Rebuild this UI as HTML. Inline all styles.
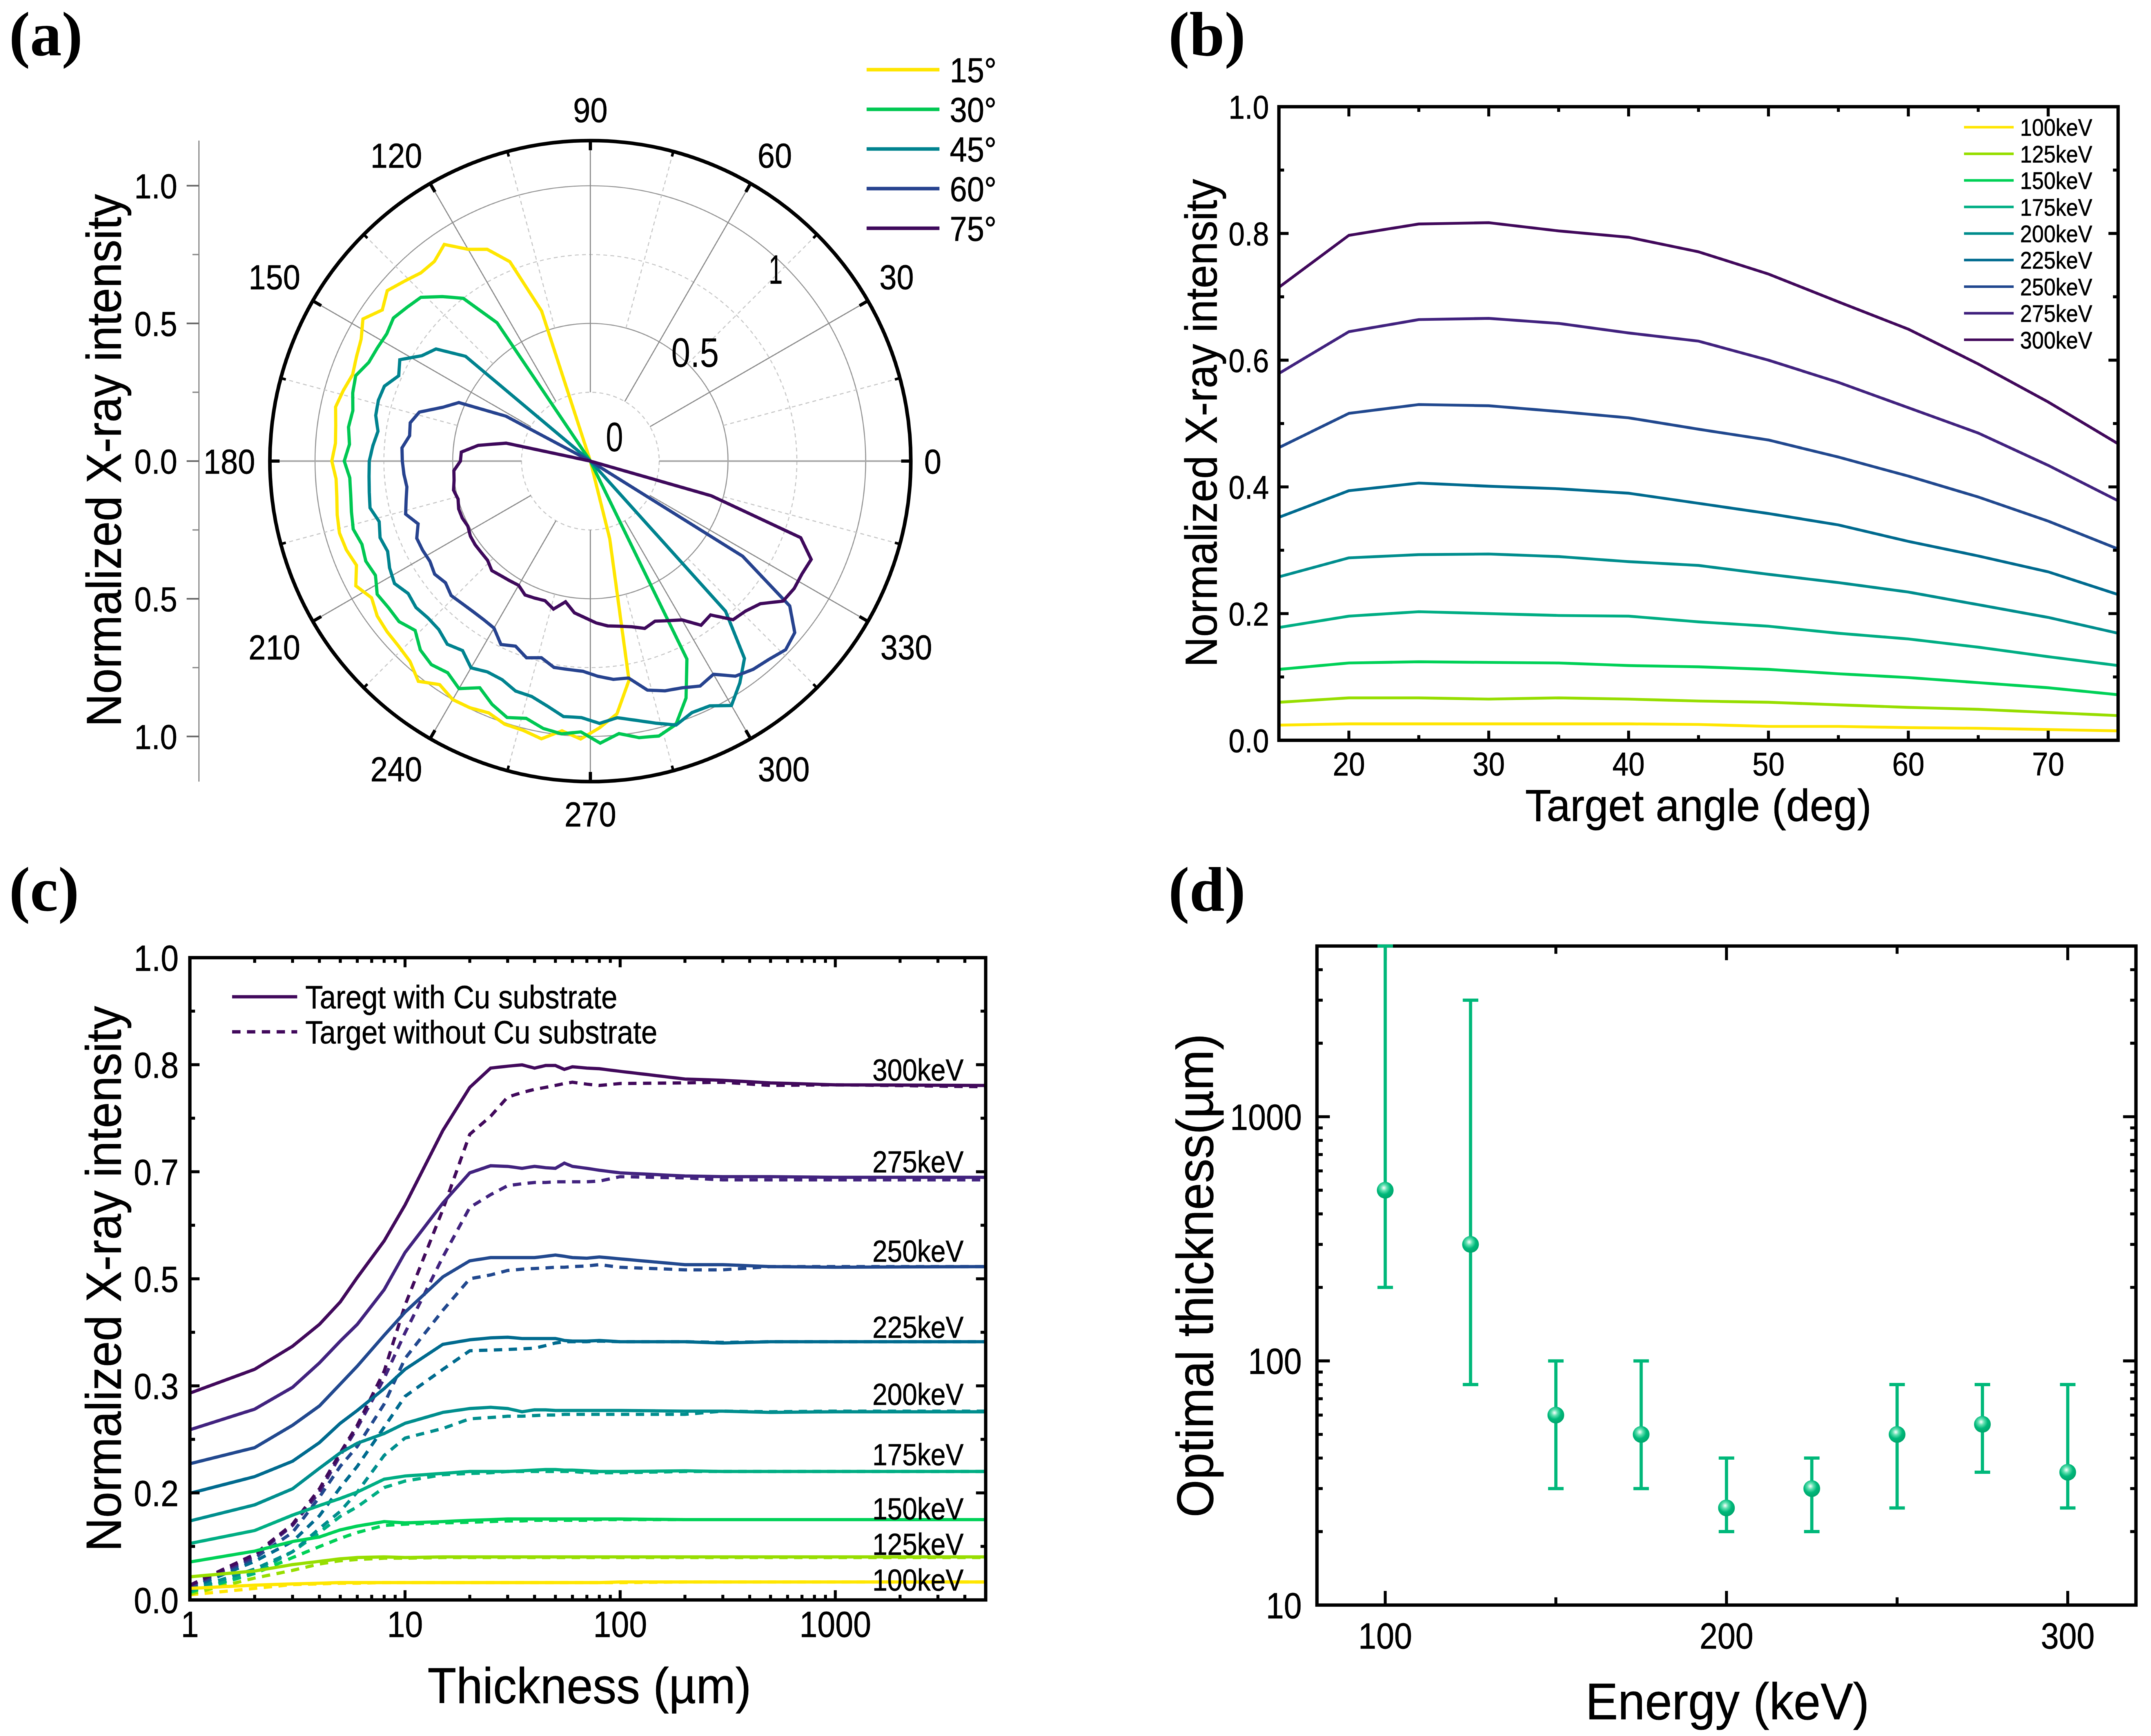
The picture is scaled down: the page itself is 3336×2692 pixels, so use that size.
<!DOCTYPE html>
<html lang="en">
<head>
<meta charset="utf-8">
<title>X-ray intensity figure</title>
<style>
html,body{margin:0;padding:0;background:#fff;}
svg{display:block;filter:blur(0.6px);}
text{font-family:"Liberation Sans",sans-serif;fill:#000;stroke:#000;stroke-width:0.5px;}
.letter{font-family:"Liberation Serif",serif;font-weight:bold;font-size:98px;stroke-width:0;}
</style>
</head>
<body>
<svg id="fig" xmlns="http://www.w3.org/2000/svg" width="3336" height="2692" viewBox="0 0 3336 2692">
<defs>
<radialGradient id="ball" cx="0.42" cy="0.36" r="0.65">
<stop offset="0" stop-color="#ffffff"/>
<stop offset="0.28" stop-color="#5fe0b0"/>
<stop offset="0.6" stop-color="#00b87a"/>
<stop offset="1" stop-color="#00a56c"/>
</radialGradient>
</defs>
<rect width="3336" height="2692" fill="#ffffff"/>
<text class="letter" x="14" y="86">(a)</text>
<text class="letter" x="1812" y="86">(b)</text>
<text class="letter" x="14" y="1412">(c)</text>
<text class="letter" x="1812" y="1412">(d)</text>

<g id="pa"></g>
<g id="pb"></g>
<g id="pc"></g>
<g id="pd"></g>

<text x="160" y="714" dy="0.36em" font-size="76" text-anchor="middle" textLength="826" lengthAdjust="spacingAndGlyphs" transform="rotate(-90 160 714)">Normalized X-ray intensity</text>
<text x="1862" y="656" dy="0.36em" font-size="70" text-anchor="middle" textLength="757" lengthAdjust="spacingAndGlyphs" transform="rotate(-90 1862 656)">Normalized X-ray intensity</text>
<text x="2634" y="1248" dy="0.36em" font-size="70" text-anchor="middle" textLength="537" lengthAdjust="spacingAndGlyphs">Target angle (deg)</text>
<text x="160" y="1983" dy="0.36em" font-size="77" text-anchor="middle" textLength="846" lengthAdjust="spacingAndGlyphs" transform="rotate(-90 160 1983)">Normalized X-ray intensity</text>
<text x="914" y="2613" dy="0.36em" font-size="78" text-anchor="middle" textLength="502" lengthAdjust="spacingAndGlyphs">Thickness (µm)</text>
<text x="1852" y="1978" dy="0.36em" font-size="80" text-anchor="middle" textLength="750" lengthAdjust="spacingAndGlyphs" transform="rotate(-90 1852 1978)">Optimal thickness(µm)</text>
<text x="2679" y="2637" dy="0.36em" font-size="80" text-anchor="middle" textLength="440" lengthAdjust="spacingAndGlyphs">Energy (keV)</text>
</svg>
<script>
/* ---------- panel (a) data: radial intensity sampled every 4 degrees ---------- */
const polarNames = ['15°','30°','45°','60°','75°'];
const polarStarts = [104,120,136,148,164];
const polar15 = [0,.573,.781,.856,.888,.949,.92,.92,.94,.963,.934,.974,.943,.93,.919,.933,.946,.934,.928,.939,.926,.93,.94,.948,.943,.93,.965,.937,.957,.964,.968,.979,1.015,.979,1.0,.997,.986,1.005,1.008,1.024,.985,1.01,.969,.923,.808,.29,0];
const polar30 = [0,.606,.75,.804,.856,.869,.884,.872,.876,.881,.907,.898,.882,.887,.877,.894,.876,.879,.887,.896,.883,.893,.884,.913,.906,.907,.885,.923,.938,.927,.954,.916,.953,.979,.963,.986,.996,.984,1.025,.995,1.02,1.029,1.006,.928,.8,0];
const polar45 = [0,.592,.693,.722,.784,.762,.796,.801,.797,.779,.792,.803,.806,.811,.818,.798,.813,.806,.826,.839,.818,.827,.82,.823,.844,.83,.867,.852,.856,.878,.881,.903,.933,.932,.953,.937,.956,.981,1.008,.985,.989,1.025,.971,.909,.734,0];
const polar60 = [0,.347,.523,.571,.646,.669,.663,.686,.683,.679,.673,.684,.698,.666,.69,.69,.687,.699,.687,.703,.696,.693,.694,.7,.741,.725,.751,.736,.761,.761,.764,.782,.797,.8,.857,.877,.888,.909,.894,.942,.96,.969,.986,.969,.895,.652,0];
const polar75 = [0,.313,.411,.47,.472,.497,.5,.508,.5,.509,.509,.504,.514,.517,.517,.519,.535,.528,.524,.521,.541,.537,.533,.554,.519,.554,.569,.588,.602,.609,.62,.639,.627,.645,.666,.719,.709,.775,.784,.806,.865,.873,.871,.878,.813,.457,0];
const polarAngleLabels = ['0','30','60','90','120','150','180','210','240','270','300','330'];
const polarLeftTicks = ['1.0','0.5','0.0','0.5','1.0'];
const polarRadialLabels = ['0','0.5','1'];

/* ---------- panel (b) data ---------- */
const angleValues = [15,20,25,30,35,40,45,50,55,60,65,70,75];
const energyNames = ['100keV','125keV','150keV','175keV','200keV','225keV','250keV','275keV','300keV'];
const angle100 = [.024,.026,.026,.026,.026,.026,.025,.022,.022,.020,.019,.017,.015];
const angle125 = [.060,.067,.067,.065,.067,.065,.062,.060,.056,.052,.049,.044,.039];
const angle150 = [.112,.122,.124,.123,.122,.118,.116,.112,.105,.099,.091,.083,.072];
const angle175 = [.178,.196,.203,.200,.197,.196,.187,.180,.169,.160,.147,.132,.118];
const angle200 = [.258,.288,.293,.294,.290,.282,.276,.262,.249,.234,.214,.194,.169];
const angle225 = [.352,.394,.406,.401,.397,.390,.374,.358,.340,.314,.291,.266,.230];
const angle250 = [.462,.516,.530,.528,.519,.509,.491,.474,.447,.417,.384,.346,.302];
const angle275 = [.579,.645,.664,.666,.658,.643,.630,.600,.565,.525,.485,.434,.378];
const angle300 = [.715,.797,.815,.817,.804,.794,.771,.736,.692,.649,.594,.534,.468];
const angleXTicks = ['20','30','40','50','60','70'];
const angleYTicks = ['0.0','0.2','0.4','0.6','0.8','1.0'];

/* ---------- panel (c) data ---------- */
const thicknessValues = [1,2,3,4,5,6,8,10,15,20,25,30,35,40,45,50,55,60,70,80,100,200,300,500,1000,5000];
const withCu300 = [.322,.359,.395,.429,.464,.502,.559,.615,.731,.798,.828,.831,.833,.828,.832,.832,.826,.830,.828,.827,.823,.811,.809,.805,.802,.801];
const noCu300 = [.023,.071,.118,.173,.229,.272,.356,.459,.608,.725,.753,.783,.790,.795,.798,.801,.804,.806,.803,.801,.804,.805,.806,.801,.802,.799];
const withCu275 = [.265,.297,.331,.369,.403,.429,.483,.541,.618,.665,.676,.675,.672,.675,.673,.672,.680,.675,.672,.669,.665,.660,.659,.659,.658,.658];
const noCu275 = [.022,.068,.116,.168,.225,.268,.345,.416,.534,.611,.631,.645,.648,.650,.650,.651,.651,.651,.651,.652,.659,.657,.654,.654,.654,.654];
const withCu250 = [.212,.237,.272,.302,.336,.364,.412,.448,.503,.528,.533,.533,.533,.533,.535,.537,.535,.533,.532,.534,.531,.522,.522,.519,.518,.519];
const noCu250 = [.020,.065,.105,.160,.208,.239,.305,.376,.451,.500,.506,.513,.515,.516,.517,.518,.518,.519,.520,.522,.518,.514,.514,.519,.519,.519];
const withCu225 = [.166,.192,.216,.245,.275,.295,.329,.359,.398,.405,.408,.409,.407,.407,.407,.407,.404,.403,.403,.404,.402,.402,.400,.402,.402,.402];
const noCu225 = [.018,.060,.091,.131,.175,.208,.269,.317,.359,.388,.389,.390,.391,.392,.396,.400,.402,.402,.402,.403,.402,.402,.401,.402,.402,.402];
const withCu200 = [.123,.148,.173,.205,.229,.244,.259,.275,.292,.298,.300,.298,.293,.296,.296,.295,.295,.295,.295,.295,.295,.294,.294,.292,.293,.293];
const noCu200 = [.016,.048,.075,.111,.138,.168,.225,.252,.267,.282,.284,.286,.286,.287,.288,.288,.289,.289,.289,.289,.289,.289,.294,.293,.294,.294];
const withCu175 = [.088,.108,.132,.147,.158,.168,.188,.193,.197,.200,.200,.200,.201,.202,.203,.203,.202,.202,.201,.200,.200,.201,.200,.200,.200,.200];
const noCu175 = [.014,.042,.075,.105,.130,.145,.175,.185,.195,.197,.198,.200,.200,.200,.200,.200,.200,.200,.198,.198,.198,.200,.200,.200,.200,.200];
const withCu150 = [.059,.076,.091,.098,.109,.115,.122,.120,.122,.124,.125,.126,.126,.126,.126,.126,.126,.126,.126,.126,.126,.125,.125,.125,.125,.125];
const noCu150 = [.012,.041,.066,.083,.096,.105,.116,.118,.120,.121,.122,.123,.123,.124,.124,.124,.124,.124,.124,.125,.125,.125,.125,.125,.125,.125];
const withCu125 = [.036,.045,.055,.060,.064,.066,.067,.066,.067,.067,.067,.067,.067,.067,.067,.067,.067,.067,.067,.067,.067,.067,.067,.067,.067,.067];
const noCu125 = [.009,.034,.046,.056,.061,.063,.065,.065,.066,.066,.066,.066,.066,.066,.066,.066,.066,.066,.066,.066,.066,.066,.066,.066,.066,.066];
const withCu100 = [.018,.023,.025,.026,.027,.027,.027,.027,.027,.027,.027,.027,.027,.027,.027,.027,.027,.027,.027,.027,.028,.028,.028,.028,.028,.028];
const noCu100 = [.008,.018,.024,.025,.026,.026,.027,.027,.027,.027,.027,.027,.027,.027,.027,.027,.027,.027,.027,.027,.027,.028,.028,.028,.028,.028];
const thicknessXTicks = ['1','10','100','1000'];
const thicknessYTicks = ['0.0','0.2','0.3','0.5','0.7','0.8','1.0'];

/* ---------- panel (d) data ---------- */
const energyValues = [100,125,150,175,200,225,250,275,300];
const optimalValues = [500,300,60,50,25,30,50,55,35];
const optimalLow = [200,80,30,30,20,20,25,35,25];
const optimalHigh = [5000,3000,100,100,40,40,80,80,80];
const optimalXTicks = ['100','200','300'];
const optimalYTicks = ['10','100','1000'];

const NS = 'http://www.w3.org/2000/svg';
const polarColors = ['#FFE600','#00C853','#00838F','#27438F','#3F0A5C'];
const energyColors = ['#FFE600','#97DE00','#00D158','#00AE84','#008E8E','#006B8F','#22498F','#42237F','#420A5C'];

function add(parent, tag, attrs, name, active) {
  const el = document.createElementNS(NS, tag);
  for (const k in attrs) el.setAttribute(k, attrs[k]);
  
  
  parent.appendChild(el);
  return el;
}
function line(parent, x1, y1, x2, y2, stroke, width, name, dash) {
  const a = {x1:x1,y1:y1,x2:x2,y2:y2,stroke:stroke,'stroke-width':width};
  if (dash) a['stroke-dasharray'] = dash;
  return add(parent, 'line', a, name);
}
function label(parent, x, y, str, size, anchor, name, extra) {
  const a = {x:x,y:y,dy:'0.36em','font-size':size,'text-anchor':anchor||'start'};
  if (extra) for (const k in extra) a[k] = extra[k];
  const t = add(parent, 'text', a, name);
  t.textContent = str;
  return t;
}
/* tall, narrow glyphs: the width stays that of baseSize, the height grows */
const glyphWidths = {'.':.278,'k':.5,'e':.556,'V':.667,'°':.4};
function textWidth(str) {
  let w = 0;
  for (const c of str) w += (c in glyphWidths) ? glyphWidths[c] : .556;
  return w;
}
function tallLabel(parent, x, y, str, baseSize, anchor, name) {
  return label(parent, x, y, str, baseSize * 1.13, anchor, name, {textLength:(textWidth(str) * baseSize).toFixed(1),lengthAdjust:'spacingAndGlyphs'});
}
function polyline(parent, pts, stroke, width, name, dash) {
  const a = {points:pts.map(p => p[0].toFixed(1)+','+p[1].toFixed(1)).join(' '),fill:'none',stroke:stroke,'stroke-width':width,'stroke-linejoin':'miter','stroke-miterlimit':3};
  if (dash) a['stroke-dasharray'] = dash;
  return add(parent, 'polyline', a, name);
}
function frame(parent, L, T, R, B, name) {
  add(parent, 'rect', {x:L,y:T,width:R-L,height:B-T,fill:'none',stroke:'#000','stroke-width':5.2}, name);
}

/* ========== panel (a) polar ========== */
(function () {
  const g = document.getElementById('pa');
  const cx = 915.6, cy = 715, unit = 427, outer = 497;
  const pt = (deg, r) => [cx + unit * r * Math.cos(deg * Math.PI / 180), cy - unit * r * Math.sin(deg * Math.PI / 180)];
  const rad = deg => deg * Math.PI / 180;

  [0.25, 0.75].forEach(r => {
    add(g, 'circle', {cx:cx,cy:cy,r:unit*r,fill:'none',stroke:'#c8c8c8','stroke-width':1.6,'stroke-dasharray':'6 5'}, 'polar-minor-ring');
  });
  [0.5, 1].forEach(r => {
    add(g, 'circle', {cx:cx,cy:cy,r:unit*r,fill:'none',stroke:'#969696','stroke-width':1.6}, 'polar-major-ring');
  });
  for (let d = 0; d < 360; d += 15) {
    const major = d % 30 === 0;
    const r0 = (major ? 0.25 : 0.5) * unit;
    const x1 = cx + r0 * Math.cos(rad(d)), y1 = cy - r0 * Math.sin(rad(d));
    const x2 = cx + outer * Math.cos(rad(d)), y2 = cy - outer * Math.sin(rad(d));
    const axisLine = d % 180 === 0;
    if (major) line(g, x1, y1, x2, y2, axisLine ? '#a8a8a8' : '#8c8c8c', axisLine ? 2.6 : 1.7, 'polar-spoke');
    else line(g, x1, y1, x2, y2, '#c8c8c8', 1.6, 'polar-minor-spoke', '6 5');
    const len = major ? 15 : 8;
    const xa = cx + (outer - len) * Math.cos(rad(d)), ya = cy - (outer - len) * Math.sin(rad(d));
    line(g, xa, ya, x2, y2, '#000', major ? 5 : 4, 'polar-angle-tick');
  }
  add(g, 'circle', {cx:cx,cy:cy,r:outer,fill:'none',stroke:'#000','stroke-width':5.6}, 'polar-outer-circle');

  const labelOffsets = [[531,0],[475,-286],[286,-474.5],[0,-545],[-301,-474.5],[-490,-286],[-560,0],[-490,288],[-301,477],[0,547],[300,477],[490,288]];
  polarAngleLabels.forEach((s, i) => {
    tallLabel(g, cx + labelOffsets[i][0], cy + labelOffsets[i][1], s, 48, 'middle', 'polar-angle-label-' + s);
  });

  const axisX = 308.5;
  line(g, axisX, cy - outer, axisX, cy + outer, '#8c8c8c', 2, 'polar-left-axis');
  polarLeftTicks.forEach((s, i) => {
    const y = cy + (i - 2) * 0.5 * unit;
    line(g, axisX - 19, y, axisX, y, '#666', 2.4, 'polar-left-major-tick');
    tallLabel(g, 275, y, s, 48, 'end', 'polar-left-tick-label');
    if (i < 4) {
      const ym = y + 0.25 * unit;
      line(g, axisX - 10, ym, axisX, ym, '#888', 2, 'polar-left-minor-tick');
    }
  });

  const radialPos = [[953,677],[1078,546],[1203,417]];
  polarRadialLabels.forEach((s, i) => {
    label(g, radialPos[i][0], radialPos[i][1], s, 64, 'middle', 'polar-radial-label-' + s, {fill:'#222',textLength:[27,74,22][i],lengthAdjust:'spacingAndGlyphs',style:'stroke-width:0'});
  });

  [polar15, polar30, polar45, polar60, polar75].forEach((vals, i) => {
    const pts = vals.map((r, k) => pt(polarStarts[i] + 4 * k, r));
    polyline(g, pts, polarColors[i], 5, 'polar-series-' + polarNames[i].replace('°', 'deg'));
  });

  polarNames.forEach((s, i) => {
    const y = 108 + i * 61.5;
    line(g, 1344, y, 1457, y, polarColors[i], 5.4, 'legend-line-' + s.replace('°', 'deg'));
    tallLabel(g, 1473, y, s, 48, 'start', 'legend-label-' + s.replace('°', 'deg'));
  });
})();

/* ========== panel (b) ========== */
(function () {
  const g = document.getElementById('pb');
  const L = 1983.5, R = 3285, T = 165.5, B = 1148;
  const X = v => L + (v - 15) / 60 * (R - L);
  const Y = v => B - v * (B - T);
  [angle100, angle125, angle150, angle175, angle200, angle225, angle250, angle275, angle300].forEach((vals, i) => {
    polyline(g, vals.map((v, k) => [X(angleValues[k]), Y(v)]), energyColors[i], 4.4, 'angle-series-' + energyNames[i]);
  });
  frame(g, L, T, R, B, 'panel-b-frame');
  for (let a = 15; a <= 75; a += 5) {
    if (a === 15 || a === 75) continue;
    const len = a % 10 === 0 ? 15 : 8;
    line(g, X(a), B, X(a), B - len, '#000', 4.6, 'x-tick');
    line(g, X(a), T, X(a), T + len, '#000', 4.6, 'x-tick-top');
  }
  for (let k = 1; k < 10; k++) {
    const len = k % 2 === 0 ? 15 : 8;
    line(g, L, Y(k / 10), L + len, Y(k / 10), '#000', 4.6, 'y-tick');
    line(g, R, Y(k / 10), R - len, Y(k / 10), '#000', 4.6, 'y-tick-right');
  }
  angleXTicks.forEach(s => {
    tallLabel(g, X(+s), 1184, s, 45, 'middle', 'x-tick-label-' + s);
  });
  angleYTicks.forEach(s => {
    tallLabel(g, 1968, Y(+s), s, 45, 'end', 'y-tick-label-' + s);
  });
  energyNames.forEach((s, i) => {
    const y = 197.3 + i * 41.2;
    line(g, 3046, y, 3123, y, energyColors[i], 4, 'legend-line-' + s);
    tallLabel(g, 3133, y, s, 33, 'start', 'legend-label-' + s);
  });
})();

/* ========== panel (c) ========== */
(function () {
  const g = document.getElementById('pc');
  const L = 294.5, R = 1528.7, T = 1485, B = 2481;
  const X = v => L + Math.log10(v) / Math.log10(5000) * (R - L);
  const Y = v => B - v * (B - T);
  const solids = [withCu100, withCu125, withCu150, withCu175, withCu200, withCu225, withCu250, withCu275, withCu300];
  const dashed = [noCu100, noCu125, noCu150, noCu175, noCu200, noCu225, noCu250, noCu275, noCu300];
  dashed.forEach((vals, i) => {
    polyline(g, vals.map((v, k) => [X(thicknessValues[k]), Y(v)]), energyColors[i], 5, 'without-cu-' + energyNames[i], '13 10');
  });
  solids.forEach((vals, i) => {
    polyline(g, vals.map((v, k) => [X(thicknessValues[k]), Y(v)]), energyColors[i], 5, 'with-cu-' + energyNames[i]);
  });
  frame(g, L, T, R, B, 'panel-c-frame');
  for (let d = 0; d < 4; d++) {
    for (let m = 1; m < 10; m++) {
      const v = m * Math.pow(10, d);
      if (v >= 5000 || v <= 1) continue;
      const len = m === 1 ? 15 : 8;
      line(g, X(v), B, X(v), B - len, '#000', 4.6, 'x-tick');
      line(g, X(v), T, X(v), T + len, '#000', 4.6, 'x-tick-top');
    }
  }
  for (let k = 1; k < 12; k++) {
    const len = k % 2 === 0 ? 15 : 8;
    line(g, L, Y(k / 12), L + len, Y(k / 12), '#000', 4.6, 'y-tick');
    line(g, R, Y(k / 12), R - len, Y(k / 12), '#000', 4.6, 'y-tick-right');
  }
  thicknessXTicks.forEach(s => {
    tallLabel(g, X(+s), 2518, s, 50, 'middle', 'x-tick-label-' + s);
  });
  thicknessYTicks.forEach((s, i) => {
    tallLabel(g, 277, Y(i / 6), s, 50, 'end', 'y-tick-label-' + s);
  });
  const nameY = [2449.5, 2394, 2339, 2255, 2161.6, 2057.5, 1939.4, 1801, 1658.6];
  energyNames.forEach((s, i) => {
    tallLabel(g, 1353, nameY[i], s, 41.7, 'start', 'series-label-' + s);
  });
  line(g, 360, 1545.7, 461, 1545.7, '#420A5C', 5.2, 'legend-line-with-cu');
  line(g, 360, 1600, 461, 1600, '#420A5C', 5.2, 'legend-line-without-cu', '13 10');
  label(g, 473.5, 1545.7, 'Taregt with Cu substrate', 50, 'start', 'legend-label-with-cu', {textLength:484,lengthAdjust:'spacingAndGlyphs'});
  label(g, 473.5, 1600, 'Target without Cu substrate', 50, 'start', 'legend-label-without-cu', {textLength:546,lengthAdjust:'spacingAndGlyphs'});
})();

/* ========== panel (d) ========== */
(function () {
  const g = document.getElementById('pd');
  const L = 2042.5, R = 3312.7, T = 1467, B = 2489;
  const X = v => L + (v - 80) / 240 * (R - L);
  const Y = v => B - (Math.log10(v) - 1) / (Math.log10(5000) - 1) * (B - T);
  frame(g, L, T, R, B, 'panel-d-frame');
  for (let e = 100; e <= 300; e += 50) {
    const len = e % 100 === 0 ? 22 : 12;
    line(g, X(e), B, X(e), B - len, '#000', 4.6, 'x-tick');
    line(g, X(e), T, X(e), T + len, '#000', 4.6, 'x-tick-top');
  }
  for (let d = 1; d < 4; d++) {
    for (let m = 1; m < 10; m++) {
      const v = m * Math.pow(10, d);
      if (v >= 5000 || v <= 10) continue;
      const len = m === 1 ? 20 : 9;
      line(g, L, Y(v), L + len, Y(v), '#000', 4.6, 'y-tick');
      line(g, R, Y(v), R - len, Y(v), '#000', 4.6, 'y-tick-right');
    }
  }
  optimalXTicks.forEach(s => {
    tallLabel(g, X(+s), 2536, s, 50, 'middle', 'x-tick-label-' + s);
  });
  optimalYTicks.forEach(s => {
    tallLabel(g, 2019, Y(+s), s, 50, 'end', 'y-tick-label-' + s);
  });
  const teal = '#00B87A';
  energyValues.forEach((e, i) => {
    const x = X(e);
    line(g, x, Y(optimalLow[i]), x, Y(optimalHigh[i]), teal, 5, 'error-bar-' + e);
    line(g, x - 12, Y(optimalHigh[i]), x + 12, Y(optimalHigh[i]), teal, 5, 'error-cap-high-' + e);
    line(g, x - 12, Y(optimalLow[i]), x + 12, Y(optimalLow[i]), teal, 5, 'error-cap-low-' + e);
    add(g, 'circle', {cx:x,cy:Y(optimalValues[i]),r:13,fill:'url(#ball)'}, 'point-' + e);
  });
})();
</script>
</body>
</html>
